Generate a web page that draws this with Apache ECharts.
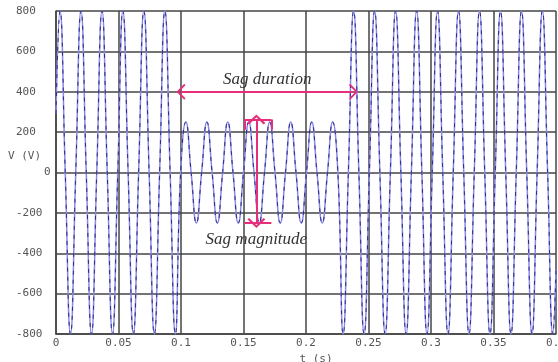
<!DOCTYPE html>
<html>
<head>
<meta charset="utf-8">
<script src="https://cdn.jsdelivr.net/npm/echarts@6/dist/echarts.min.js"></script>
<style>
    html, body { margin: 0; padding: 0; background: #fff; }
    #chart { width: 558px; height: 362px; }
</style>
</head>
<body>
<div id="chart"></div>
<script>
// 电压暂降波形 (sag) —— 数据从图上读出
// 每个波峰/波谷的时间 (s)
const extremaT = [
    0.0032, 0.0116, 0.0200, 0.0284, 0.0368, 0.0452, 0.0535, 0.0619, 0.0703, 0.0787,
    0.0871, 0.0955, 0.1039, 0.1123, 0.1207, 0.1291, 0.1374, 0.1458, 0.1542, 0.1626,
    0.1710, 0.1794, 0.1878, 0.1962, 0.2046, 0.2130, 0.2213, 0.2297, 0.2381, 0.2465,
    0.2549, 0.2633, 0.2717, 0.2801, 0.2885, 0.2968, 0.3052, 0.3136, 0.3220, 0.3304,
    0.3388, 0.3472, 0.3556, 0.3640, 0.3724, 0.3808, 0.3891, 0.3975
];
// 对应的峰值 (V)
const extremaV = [
    800, -800, 800, -800, 800, -800, 800, -800, 800, -800, 800, -800,
    250, -250, 250, -250, 250, -250, 250, -250, 250, -250, 250, -250, 250, -250, 250,
    -800, 800, -800, 800, -800, 800, -800, 800, -800, 800, -800, 800, -800, 800,
    -800, 800, -800, 800, -800, 800, -800
];
// 过零点时间 (s)
const crossT = [
    0.0074, 0.0158, 0.0242, 0.0326, 0.0410, 0.0494, 0.0577, 0.0661, 0.0745, 0.0829,
    0.0913, 0.0997, 0.1081, 0.1165, 0.1249, 0.1333, 0.1416, 0.1500, 0.1584, 0.1668,
    0.1752, 0.1836, 0.1920, 0.2004, 0.2088, 0.2172, 0.2255, 0.2339, 0.2423, 0.2507,
    0.2591, 0.2675, 0.2759, 0.2843, 0.2927, 0.3010, 0.3094, 0.3178, 0.3262, 0.3346,
    0.3430, 0.3514, 0.3598, 0.3682, 0.3766, 0.3849, 0.3933
];
// 两端的值
const edgePoints = [[0, 290], [0.4, -480]];

const xTicks = { min: 0, max: 0.4, interval: 0.05 };
const yTicks = { min: -800, max: 800, interval: 200 };

// 标注
const sagDuration = [[0.1, 400], [0.238, 400]];
const sagMagnitude = [[0.1603, 263], [0.1603, -250]];
const sagTopBar = [[0.1506, 263], [0.1723, 263]];
const sagTopLeft = [[0.1506, 263], [0.1506, 212]];
const sagTopRight = [[0.1723, 263], [0.1723, 212]];
const sagBottomBar = [[0.1506, -250], [0.1723, -250]];

let wave = [edgePoints[0]];
extremaT.forEach((t, i) => {
    wave.push([t, extremaV[i]]);
    if (i < crossT.length) wave.push([crossT[i], 0]);
});
wave.push(edgePoints[1]);

const pink = '#e62e7b';
const gridColor = '#444';
const monoFont = '"DejaVu Sans Mono", monospace';
const chevron = 'path://M50,0 L100,62 L90,72 L50,20 L10,72 L0,62 Z';

const seg = (pts) => [{ coord: pts[0] }, { coord: pts[1] }];
const arrowSeg = (pts, size, label) => {
    const s = seg(pts);
    s[0].symbol = chevron;
    s[0].symbolSize = size;
    s[1].symbol = chevron;
    s[1].symbolSize = size;
    if (label) s[0].label = label;
    return s;
};
const noteLabel = (text, position, distance) => ({
    show: true,
    formatter: text,
    position: position,
    distance: distance,
    color: '#333',
    fontFamily: '"Liberation Serif", serif',
    fontStyle: 'italic',
    fontSize: 17
});

const echart = echarts.init(document.getElementById('chart'));
const option = {
    backgroundColor: '#fff',
    animation: false,
    grid: {
        left: 56,
        right: 2,
        top: 11,
        bottom: 28,
        containLabel: false,
        outerBoundsMode: 'none'
    },
    graphic: [{
        type: 'text',
        left: 8,
        top: 151,
        style: {
            text: 'V (V)',
            font: '11px ' + monoFont,
            fill: '#555'
        }
    }],
    xAxis: {
        type: 'value',
        min: xTicks.min,
        max: xTicks.max,
        interval: xTicks.interval,
        name: 't (s)',
        nameLocation: 'middle',
        nameGap: 13,
        nameTextStyle: {
            color: '#555',
            fontFamily: monoFont,
            fontSize: 11,
            padding: [0, 0, 0, 20]
        },
        axisLine: {
            onZero: false,
            lineStyle: { color: gridColor, width: 1.5 }
        },
        axisTick: { show: false },
        axisLabel: {
            color: '#555',
            fontFamily: monoFont,
            fontSize: 11,
            margin: 4,
            formatter: v => String(+v.toFixed(2))
        },
        splitLine: {
            show: true,
            lineStyle: { color: gridColor, width: 1.5 }
        }
    },
    yAxis: {
        type: 'value',
        min: yTicks.min,
        max: yTicks.max,
        interval: yTicks.interval,
        axisLine: {
            show: true,
            lineStyle: { color: gridColor, width: 1.5 }
        },
        axisTick: { show: false },
        axisLabel: {
            color: '#555',
            fontFamily: monoFont,
            fontSize: 11,
            align: 'left',
            margin: 40,
            formatter: v => v === 0 ? '{z|0}' : String(v),
            rich: {
                z: {
                    color: '#555',
                    fontFamily: monoFont,
                    fontSize: 11,
                    padding: [0, 0, 0, 28]
                }
            }
        },
        splitLine: {
            show: true,
            lineStyle: { color: gridColor, width: 1.5 }
        }
    },
    series: [
        {
            type: 'line',
            data: wave,
            smooth: 0.5,
            symbol: 'none',
            lineStyle: { color: '#8a8ae2', width: 1.5 }
        },
        {
            type: 'line',
            data: wave,
            smooth: 0.5,
            symbol: 'none',
            lineStyle: { color: '#2a2a90', width: 1, type: [4, 5] },
            markLine: {
                silent: true,
                animation: false,
                lineStyle: { color: pink, width: 2, type: 'solid' },
                symbol: ['none', 'none'],
                label: { show: false },
                data: [
                    arrowSeg(sagDuration, [16, 9], noteLabel('Sag duration', 'insideMiddleTop', 4)),
                    arrowSeg(sagMagnitude, [18, 10], noteLabel('Sag magnitude', 'end', 8)),
                    seg(sagTopBar),
                    seg(sagTopLeft),
                    seg(sagTopRight),
                    seg(sagBottomBar)
                ]
            }
        }
    ]
};
echart.setOption(option);
</script>
</body>
</html>
